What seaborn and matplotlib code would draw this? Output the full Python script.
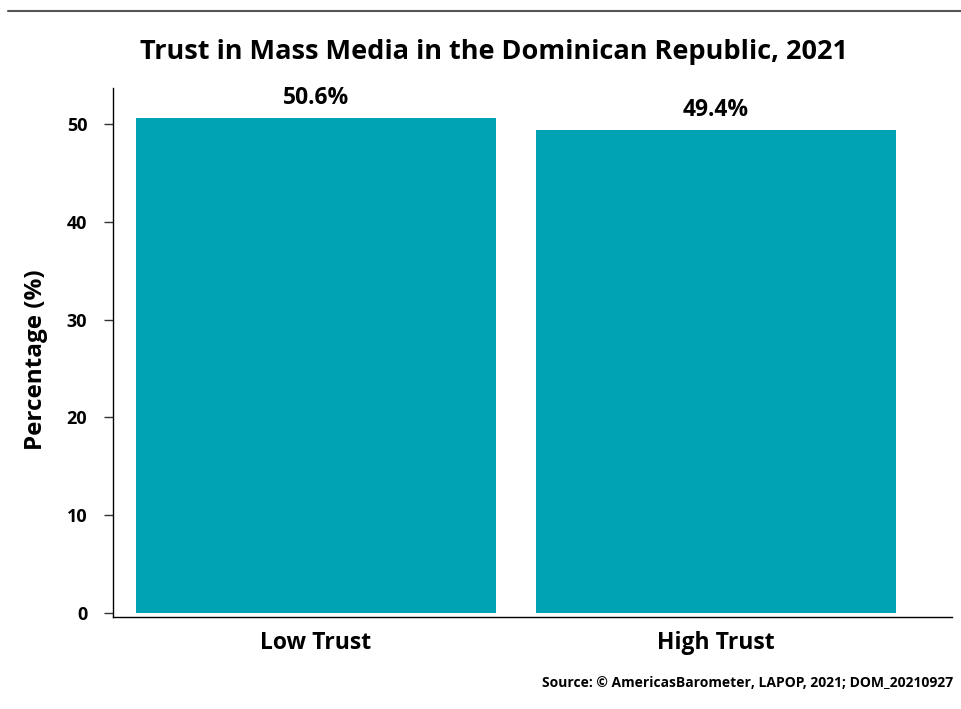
import matplotlib
matplotlib.use("Agg")
import matplotlib.pyplot as plt
import seaborn as sns
import pandas as pd

categories = ["Low Trust", "High Trust"]
values = [50.6, 49.4]
labels = ["50.6%", "49.4%"]
yticks = [0, 10, 20, 30, 40, 50]

sns.set_style("white")
plt.rcParams['font.family'] = ['Open Sans', 'DejaVu Sans']
plt.rcParams['text.color'] = 'black'
plt.rcParams['axes.labelcolor'] = 'black'
plt.rcParams['xtick.color'] = 'black'
plt.rcParams['ytick.color'] = 'black'

df = pd.DataFrame({"cat": categories, "val": values})

fig = plt.figure(figsize=(9.61, 7.09), dpi=100)
ax = fig.add_axes([113/961, 1 - 617/709, (952-113)/961, (617-88)/709])
sns.barplot(data=df, x="cat", y="val", color="#00A3B3", saturation=1, width=0.9,
            linewidth=0, ax=ax)
ax.set_xlim(-0.5075, 1.59)
ax.set_ylim(-0.41, 53.7)
ax.set_yticks(yticks)
ax.set_yticklabels([str(t) for t in yticks], fontsize=13, fontweight='bold')
for lbl in ax.get_xticklabels():
    lbl.set_fontsize(16.5)
    lbl.set_fontweight('bold')
ax.set_xlabel("")
ax.set_ylabel("Percentage (%)", fontsize=17.5, fontweight='bold', va='center')
ax.yaxis.set_label_coords((36-113)/839, 0.486)
ax.tick_params(axis='y', length=6.5, width=1, color='#333333', left=True, pad=12)
ax.tick_params(axis='x', length=0, pad=10)
for s in ['top', 'right']:
    ax.spines[s].set_visible(False)
for s in ['left', 'bottom']:
    ax.spines[s].set_color('black')
    ax.spines[s].set_linewidth(1)

for p, lab in zip(ax.patches, labels):
    ax.annotate(lab, (p.get_x() + p.get_width()/2, p.get_height()),
                xytext=(0, 6), textcoords='offset points', ha='center', va='bottom',
                fontsize=16.5, fontweight='bold')

fig.text(494/961, 1 - 52/709, "Trust in Mass Media in the Dominican Republic, 2021",
         ha='center', va='center', fontsize=19.5, fontweight='bold')
fig.text(953/961, 1 - 683/709, "Source: © AmericasBarometer, LAPOP, 2021; DOM_20210927",
         ha='right', va='center', fontsize=10, fontweight='bold')
fig.add_artist(plt.Line2D([8/961, 1], [1 - 10.5/709, 1 - 10.5/709], color='#555555', linewidth=1.5))

fig.savefig("out.png", dpi=100)
